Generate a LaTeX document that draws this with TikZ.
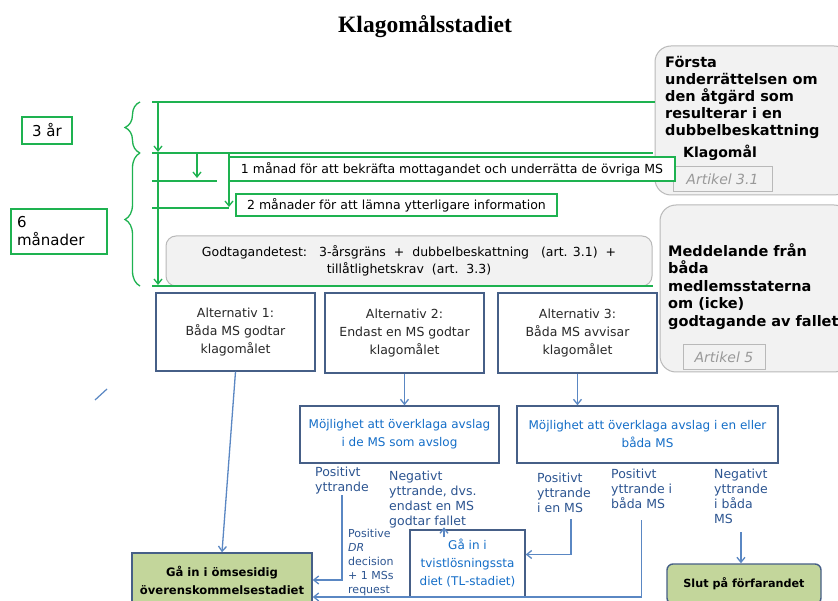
\documentclass[tikz,border=0pt]{standalone}
\usepackage{fontspec}
\setmainfont{DejaVu Sans}
\newfontfamily\titlefont{Liberation Serif}
\usetikzlibrary{arrows.meta,decorations.pathreplacing}
\definecolor{tgreen}{RGB}{30,178,80}
\definecolor{bbord}{RGB}{70,95,135}
\definecolor{bline}{RGB}{90,135,195}
\definecolor{mblue}{RGB}{20,110,200}
\definecolor{lblue}{RGB}{45,85,145}
\definecolor{gfill}{RGB}{195,214,155}
\definecolor{gboxfill}{RGB}{242,242,242}
\definecolor{gboxdraw}{RGB}{185,185,185}
\definecolor{alttext}{RGB}{40,40,40}
\begin{document}
\begin{tikzpicture}[x=1pt,y=-1pt,
  gl/.style={draw=tgreen,line width=1.3pt},
  garr/.style={gl,-{Straight Barb[length=5pt,width=8pt]}},
  gbox/.style={draw=tgreen,line width=1.3pt,fill=white,inner sep=0pt},
  bbox/.style={draw=bbord,line width=1.4pt,fill=white,inner sep=0pt,align=center,
    font=\fontsize{12.5}{18}\selectfont},
  barr/.style={draw=bline,line width=1.3pt,-{Straight Barb[length=5pt,width=8pt]}},
  grbox/.style={draw=gboxdraw,fill=gboxfill,rounded corners=16pt,line width=1pt,inner sep=0pt},
  artbox/.style={draw=gboxdraw,fill=gboxfill,line width=1pt,inner sep=0pt,
    text=gray!80,font=\fontsize{14}{16}\selectfont\itshape},
  lbl/.style={inner sep=1pt,align=left,text=lblue,font=\fontsize{12.5}{15}\selectfont,anchor=north west},
  brc/.style={draw=tgreen,line width=1.3pt,decorate,decoration={brace,amplitude=15pt}}
]
\useasboundingbox (0,0) rectangle (838,601);
\fill[white] (0,0) rectangle (838,601);

% title
\node (title) at (425,27) {\titlefont\fontsize{23.5}{26}\selectfont\bfseries Klagomålsstadiet};

% right gray boxes
\node[grbox,minimum width=195,minimum height=149] (first) at (752.5,120.5) {};
\node[anchor=north west,inner sep=0pt,align=left,font=\fontsize{14.5}{17}\selectfont\bfseries] (firsttxt) at (665,56)
  {Första\\underrättelsen om\\den åtgärd som\\resulterar i en\\dubbelbeskattning};
\node[inner sep=0pt,font=\fontsize{14}{16}\selectfont\bfseries] (klag) at (720,153) {Klagomål};
\node[artbox,minimum width=99,minimum height=25] (art31) at (722.5,179.5) {Artikel 3.1};

\node[grbox,minimum width=190,minimum height=167] (medd) at (755,288.5) {};
\node[anchor=north west,inner sep=0pt,align=left,font=\fontsize{14.5}{17.5}\selectfont\bfseries] (meddtxt) at (668,243)
  {Meddelande från\\båda\\medlemsstaterna\\om (icke)\\godtagande av fallet};
\node[artbox,minimum width=82,minimum height=25] (art5) at (724,357.5) {Artikel 5};

% green boxes
\node[gbox,minimum width=50,minimum height=27,font=\fontsize{15}{18}\selectfont] (ar3) at (47,130.5) {3 år};
\node[gbox,minimum width=96,minimum height=45,text width=84,align=left,font=\fontsize{15}{18}\selectfont] (m6) at (59,231.5) {6\\månader};
\node[gbox,minimum width=446,minimum height=24,font=\fontsize{12.5}{15}\selectfont] (m1) at (452,169)
  {1 månad för att bekräfta mottagandet och underrätta de övriga MS};
\node[gbox,minimum width=321,minimum height=22,font=\fontsize{12.5}{15}\selectfont] (m2) at (396.5,205)
  {2 månader för att lämna ytterligare information};
\node[grbox,rounded corners=10pt,minimum width=486,minimum height=50,align=center,font=\fontsize{12.5}{17}\selectfont] (god) at (409,261)
  {Godtagandetest:\ \ \ 3-årsgräns\ \ +\ \ dubbelbeskattning\ \ \ (art. 3.1)\ \ +\\tillåtlighetskrav\ \ (art.\ \ 3.3)};

% green timeline lines
\coordinate (t1) at (152,102);
\coordinate (t2) at (152,153);
\coordinate (t3) at (152,181);
\coordinate (t4) at (152,208);
\coordinate (t5) at (152,286);
\draw[gl] (t1) -- (t1 -| first.west);
\draw[gl] (t2) -- (653,153);
\draw[gl] (t3) -- (217,181);
\draw[gl] (t4) -- (229,208);
\draw[gl] (t5) -- (653,286);
\draw[garr] (158,102) -- (158,152);
\draw[garr] (158,153) -- (158,285);
\draw[garr] (197,153) -- (197,178);
\draw[garr] (229,153) -- (229,207);
\draw[brc] (140,153) -- (140,102);
\draw[brc] (140,286) -- (140,153);

% alternatives
\node[bbox,minimum width=159,minimum height=78,text=alttext] (alt1) at (235.5,332) {Alternativ 1:\\Båda MS godtar\\klagomålet};
\node[bbox,minimum width=159,minimum height=80,text=alttext] (alt2) at (404.5,333) {Alternativ 2:\\Endast en MS godtar\\klagomålet};
\node[bbox,minimum width=159,minimum height=80,text=alttext] (alt3) at (577.5,333) {Alternativ 3:\\Båda MS avvisar\\klagomålet};

\node[bbox,minimum width=199,minimum height=57,text=mblue,font=\fontsize{12}{18}\selectfont] (moj1) at (399.5,434.5) {Möjlighet att överklaga avslag\\i de MS som avslog};
\node[bbox,minimum width=261,minimum height=57,text=mblue,font=\fontsize{12}{18}\selectfont] (moj2) at (647.5,434.5) {Möjlighet att överklaga avslag i en eller\\båda MS};

\node[bbox,minimum width=115,minimum height=67,text=mblue,font=\fontsize{12}{18}\selectfont] (tl) at (467.5,563.5) {Gå in i\\tvistlösningssta\\diet (TL-stadiet)};

\node[bbox,fill=gfill,minimum width=180,minimum height=54,text=black,font=\fontsize{11.6}{18}\selectfont\bfseries] (ga) at (222,580) {Gå in i ömsesidig\\överenskommelsestadiet};
\node[bbox,fill=gfill,rounded corners=6pt,minimum width=154,minimum height=40,text=black,font=\fontsize{11.2}{14}\selectfont\bfseries] (slut) at (744,584) {Slut på förfarandet};

% labels
\node[lbl] (pos1) at (314,466) {Positivt\\yttrande};
\node[lbl] (neg1) at (388,470) {Negativt\\yttrande, dvs.\\endast en MS\\godtar fallet};
\node[lbl] (pos2) at (536,472) {Positivt\\yttrande\\i en MS};
\node[lbl] (pos3) at (610,468) {Positivt\\yttrande i\\båda MS};
\node[lbl] (neg2) at (713,468) {Negativt\\yttrande\\i båda\\MS};
\node[lbl,font=\fontsize{11}{14}\selectfont] (dr) at (347,528) {Positive\\\textit{DR}\\decision\\+ 1 MSs\\request};

% blue connectors
\draw[barr] (alt1.south) -- (ga.north);
\draw[barr] (alt2.south) -- (alt2.south |- moj1.north);
\draw[barr] (alt3.south) -- (alt3.south |- moj2.north);
\draw[barr] (pos1.south) |- (ga.east);
\draw[barr,shorten <=5pt] ([xshift=7pt]pos2.south) |- ([yshift=9pt]tl.east);
\draw[barr,shorten <=10pt] (pos3.south) |- ([yshift=-17pt]ga.east);
\draw[barr,shorten <=7pt] (neg2.south) -- (neg2.south |- slut.north);
\draw[barr] ([xshift=-23.5pt,yshift=-8pt]tl.north) -- ([xshift=-23.5pt,yshift=2pt]tl.north);
\draw[draw=bline,line width=1.2pt] (95,400) -- (107,389);
\end{tikzpicture}
\end{document}
